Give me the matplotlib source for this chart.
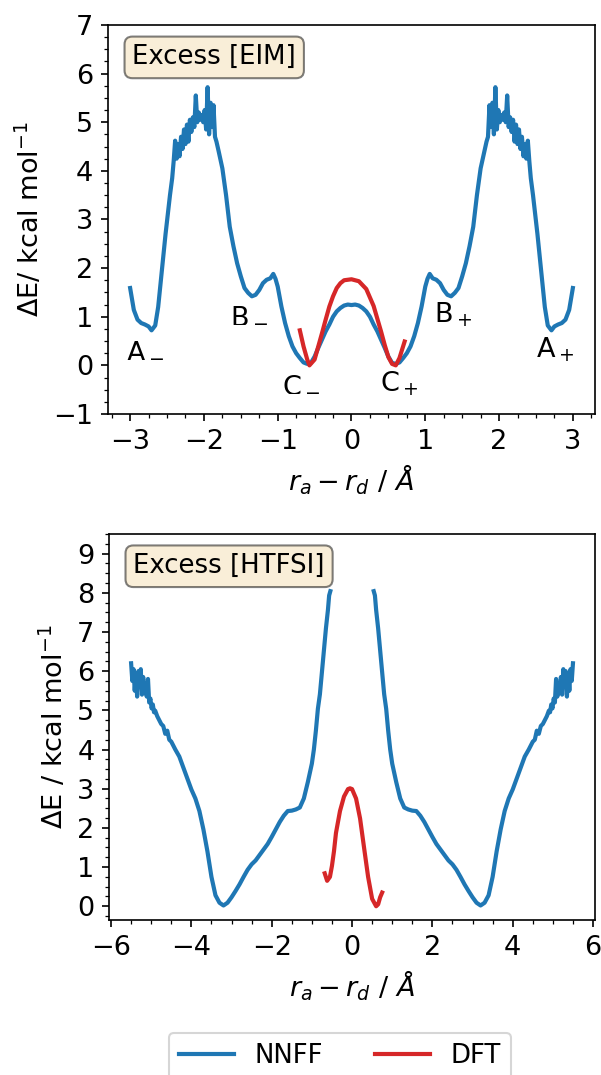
import numpy as np
import matplotlib
matplotlib.use("Agg")
import matplotlib.pyplot as plt
from matplotlib.ticker import AutoMinorLocator

# ── Excess [EIM]: NNFF profile, left half (curve is symmetric about 0) ──────
eim_x_half = [-3.00, -2.95, -2.90, -2.85, -2.80, -2.75, -2.71, -2.66, -2.62,
              -2.58, -2.55, -2.52, -2.49, -2.46, -2.43, -2.41, -2.39, -2.37,
              -2.35, -2.33, -2.31, -2.29, -2.27, -2.25, -2.23, -2.21, -2.19,
              -2.17, -2.15, -2.13, -2.11, -2.09, -2.07, -2.05, -2.03, -2.01,
              -1.99, -1.97, -1.95, -1.93, -1.91, -1.89, -1.87, -1.85, -1.83,
              -1.80, -1.75, -1.70, -1.65, -1.60, -1.55, -1.50, -1.45, -1.40,
              -1.35, -1.30, -1.25, -1.20, -1.15, -1.10, -1.06, -1.03, -1.00,
              -0.95, -0.90, -0.85, -0.80, -0.75, -0.70, -0.65, -0.60, -0.55,
              -0.50, -0.45, -0.40, -0.35, -0.30, -0.25, -0.20, -0.15, -0.10,
              -0.05, 0.00]
eim_nnff_half = [1.59, 1.14, 0.94, 0.87, 0.84, 0.80, 0.72, 0.82, 1.20,
                 1.80, 2.25, 2.70, 3.10, 3.50, 3.85, 4.20, 4.62, 4.25,
                 4.55, 4.30, 4.70, 4.45, 4.85, 4.55, 4.95, 4.60, 5.05,
                 4.80, 5.10, 4.90, 5.55, 5.00, 5.20, 5.05, 5.15, 5.00,
                 5.25, 4.85, 5.72, 4.75, 5.40, 4.90, 5.35, 4.70, 4.60,
                 4.40, 4.05, 3.50, 2.85, 2.45, 2.10, 1.83, 1.59, 1.49,
                 1.42, 1.45, 1.55, 1.69, 1.76, 1.79, 1.88, 1.78, 1.62,
                 1.21, 0.87, 0.60, 0.39, 0.25, 0.15, 0.06, 0.03, 0.05,
                 0.18, 0.36, 0.53, 0.70, 0.84, 1.00, 1.11, 1.18, 1.23,
                 1.25, 1.24]

eim_dft_x = [-0.70, -0.65, -0.60, -0.57, -0.50, -0.45, -0.40, -0.35, -0.30,
             -0.25, -0.20, -0.15, -0.10, 0.00, 0.10, 0.20, 0.30, 0.40,
             0.45, 0.50, 0.55, 0.60, 0.65, 0.72]
eim_dft = [0.72, 0.39, 0.12, 0.00, 0.12, 0.39, 0.66, 0.94, 1.21,
           1.42, 1.59, 1.69, 1.75, 1.77, 1.73, 1.57, 1.22, 0.70,
           0.42, 0.17, 0.03, 0.00, 0.15, 0.49]

# ── Excess [HTFSI]: NNFF profile, left half ─────────────────────────────────
htfsi_x_half = [-5.50, -5.47, -5.44, -5.41, -5.38, -5.35, -5.32, -5.29, -5.26,
                -5.23, -5.20, -5.17, -5.14, -5.11, -5.08, -5.05, -5.02, -4.99,
                -4.96, -4.93, -4.90, -4.85, -4.80, -4.75, -4.70, -4.65, -4.60,
                -4.55, -4.50, -4.40, -4.30, -4.20, -4.10, -4.00, -3.90, -3.80,
                -3.70, -3.60, -3.50, -3.40, -3.30, -3.20, -3.10, -3.00, -2.90,
                -2.80, -2.70, -2.60, -2.50, -2.40, -2.30, -2.20, -2.10, -2.00,
                -1.90, -1.80, -1.70, -1.60, -1.50, -1.40, -1.30, -1.20, -1.10,
                -1.00, -0.95, -0.90, -0.85, -0.80, -0.75, -0.70, -0.65, -0.60,
                -0.57, -0.54]
htfsi_nnff_half = [6.20, 5.75, 6.05, 5.50, 5.95, 5.35, 6.00, 5.60, 6.05,
                   5.40, 5.85, 5.55, 5.50, 5.35, 5.80, 5.20, 5.30, 5.05,
                   5.15, 4.95, 4.99, 4.85, 4.75, 4.65, 4.60, 4.40, 4.48,
                   4.25, 4.20, 4.00, 3.82, 3.54, 3.26, 2.98, 2.75, 2.43,
                   1.96, 1.40, 0.75, 0.28, 0.09, 0.02, 0.09, 0.23, 0.39,
                   0.56, 0.75, 0.93, 1.07, 1.17, 1.31, 1.45, 1.59, 1.77,
                   1.96, 2.15, 2.31, 2.43, 2.44, 2.47, 2.52, 2.75, 3.17,
                   3.64, 4.00, 4.48, 5.04, 5.41, 5.97, 6.53, 7.09, 7.56,
                   7.93, 8.04]

htfsi_dft_x = [-0.68, -0.62, -0.55, -0.50, -0.45, -0.40, -0.30, -0.20, -0.10,
               -0.05, 0.00, 0.10, 0.20, 0.30, 0.40, 0.50, 0.60, 0.65,
               0.70, 0.75]
htfsi_dft = [0.84, 0.65, 0.75, 1.03, 1.40, 1.87, 2.43, 2.80, 2.99,
             3.01, 2.99, 2.75, 2.24, 1.49, 0.75, 0.19, 0.00, 0.05,
             0.23, 0.35]

# state labels on the EIM panel: (text, x, y)
eim_labels = [("A$_-$", -3.05, 0.17), ("B$_-$", -1.65, 0.89),
              ("C$_-$", -0.94, -0.53), ("C$_+$", 0.39, -0.53),
              ("B$_+$", 1.12, 0.89), ("A$_+$", 2.50, 0.17)]

BLUE = "#1f77b4"
RED = "#d62728"
LW = 2.0


def mirrored(xh, yh):
    """Full symmetric profile from the left half (x <= 0)."""
    xh = np.asarray(xh)
    yh = np.asarray(yh)
    if xh[-1] == 0.0:
        return (np.concatenate([xh, -xh[-2::-1]]),
                np.concatenate([yh, yh[-2::-1]]))
    return np.concatenate([xh, -xh[::-1]]), np.concatenate([yh, yh[::-1]])


plt.rcParams["font.size"] = 13
plt.rcParams["mathtext.fontset"] = "dejavusans"

fig = plt.figure(figsize=(601 / 150, 1075 / 150), dpi=150)
ax1 = fig.add_axes([0.1797, 0.6149, 0.8103, 0.3619])
ax2 = fig.add_axes([0.1814, 0.1442, 0.8087, 0.3591])

box = dict(boxstyle="round", facecolor="wheat", alpha=0.5)

# ── top panel ───────────────────────────────────────────────────────────────
x, y = mirrored(eim_x_half, eim_nnff_half)
ax1.plot(x, y, color=BLUE, lw=LW, label="NNFF")
ax1.plot(eim_dft_x, eim_dft, color=RED, lw=LW, label="DFT")
for txt, tx, ty in eim_labels:
    ax1.text(tx, ty, txt)
ax1.set_xlim(-3.3, 3.3)
ax1.set_ylim(-1, 7)
ax1.set_xticks([-3, -2, -1, 0, 1, 2, 3])
ax1.set_yticks(range(-1, 8))
ax1.xaxis.set_minor_locator(AutoMinorLocator(4))
ax1.yaxis.set_minor_locator(AutoMinorLocator(4))
ax1.set_xlabel(r"$r_a - r_d\ /\ \AA$")
ax1.set_ylabel(r"$\Delta$E/ kcal mol$^{-1}$")
ax1.text(0.05, 0.95, "Excess [EIM]", transform=ax1.transAxes,
         va="top", fontsize=12.5, bbox=box)

# ── bottom panel ────────────────────────────────────────────────────────────
x, y = mirrored(htfsi_x_half, htfsi_nnff_half)
half = len(htfsi_x_half)
ax2.plot(x[:half], y[:half], color=BLUE, lw=LW, label="NNFF")
ax2.plot(x[half:], y[half:], color=BLUE, lw=LW)
ax2.plot(htfsi_dft_x, htfsi_dft, color=RED, lw=LW, label="DFT")
ax2.set_xlim(-6.05, 6.05)
ax2.set_ylim(-0.35, 9.5)
ax2.set_xticks([-6, -4, -2, 0, 2, 4, 6])
ax2.set_yticks(range(0, 10))
ax2.xaxis.set_minor_locator(AutoMinorLocator(4))
ax2.yaxis.set_minor_locator(AutoMinorLocator(4))
ax2.set_xlabel(r"$r_a - r_d\ /\ \AA$")
ax2.set_ylabel(r"$\Delta$E / kcal mol$^{-1}$")
ax2.text(0.05, 0.95, "Excess [HTFSI]", transform=ax2.transAxes,
         va="top", fontsize=12.5, bbox=box)

handles, labels = ax2.get_legend_handles_labels()
fig.legend(handles, labels, loc="upper center", ncol=2, fontsize=12.5,
           bbox_to_anchor=(340 / 601, 1 - 1033 / 1075), borderaxespad=0,
           handlelength=2.1, columnspacing=2.0)

fig.savefig("out.png", dpi=150)
